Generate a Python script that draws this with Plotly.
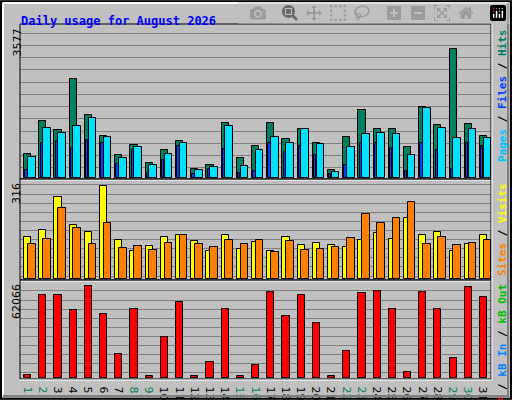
import plotly.graph_objects as go

days = list(range(1, 32))
hits = [665, 1587, 1320, 2752, 1756, 1175, 640, 906, 421, 761, 1028, 251, 372, 1514, 542, 882, 1514, 1076, 1367, 955, 227, 1125, 1878, 1344, 1344, 858, 1975, 1465, 3577, 1489, 1149]
files = [591, 1392, 1247, 1441, 1660, 1125, 567, 858, 372, 664, 955, 227, 300, 1441, 324, 761, 1125, 979, 1344, 931, 178, 858, 1231, 1247, 1231, 640, 1927, 1392, 1101, 1344, 1101]
pages = [227, 979, 1012, 834, 1052, 955, 397, 761, 130, 494, 882, 105, 251, 810, 130, 202, 979, 712, 882, 640, 105, 348, 955, 979, 834, 202, 979, 785, 251, 979, 882]
visits = [144, 168, 278, 185, 161, 316, 134, 96, 113, 144, 151, 130, 96, 148, 103, 127, 96, 144, 117, 124, 117, 110, 134, 155, 137, 206, 151, 161, 96, 120, 148]
sites = [120, 137, 240, 172, 120, 192, 106, 113, 99, 124, 151, 120, 110, 134, 120, 134, 93, 130, 99, 103, 110, 141, 220, 192, 209, 261, 120, 144, 117, 124, 134]
kbf = [2265, 55943, 55943, 45750, 62066, 43032, 15855, 46430, 1586, 27407, 51186, 1586, 10418, 46430, 1586, 9059, 57981, 41673, 55943, 36917, 1586, 17893, 56849, 58208, 46657, 4304, 57981, 46430, 13136, 61160, 54357]
weekend = {1, 2, 8, 9, 15, 16, 22, 23, 29, 30}
ticktext = [f'<span style="color:{"#008050" if d in weekend else "#000000"}">{d}</span>' for d in days]

W = 512
def px(x): return x / W
def py(y): return 1 - y / 400

fig = go.Figure()
common = dict(marker_line_color="black", marker_line_width=1)
fig.add_bar(x=days, y=hits, offset=-0.33, width=0.47, marker_color="#008060", xaxis="x", yaxis="y", **common)
fig.add_bar(x=days, y=files, offset=-0.08, width=0.5, marker_color="#00E0FF", xaxis="x", yaxis="y", **common)
fig.add_bar(x=days, y=pages, offset=-0.25, width=0.15, marker_color="#0040FF", xaxis="x", yaxis="y", **common)
fig.add_bar(x=days, y=visits, offset=-0.33, width=0.47, marker_color="#FFFF00", xaxis="x2", yaxis="y2", **common)
fig.add_bar(x=days, y=sites, offset=-0.08, width=0.5, marker_color="#FF8000", xaxis="x2", yaxis="y2", **common)
fig.add_bar(x=days, y=kbf, offset=-0.33, width=0.47, marker_color="#FF0000", xaxis="x3", yaxis="y3", **common)

xd = [px(20), px(491)]
xcommon = dict(range=[0.4, 31.4], domain=xd, showgrid=False, zeroline=False, showline=False)
grid = dict(showgrid=True, gridcolor="#808080", gridwidth=1, zeroline=False, showticklabels=False, ticks="")
fig.update_layout(
    width=512, height=400, margin=dict(l=0, r=0, t=0, b=0),
    paper_bgcolor="#C0C0C0", plot_bgcolor="#C0C0C0", barmode="overlay", showlegend=False,
    bargap=0,
    xaxis=dict(**xcommon, showticklabels=False, anchor="y"),
    xaxis2=dict(**xcommon, showticklabels=False, anchor="y2"),
    xaxis3=dict(**xcommon, anchor="y3", tickmode="array", tickvals=days, ticktext=ticktext, ticks="",
                tickfont=dict(family="DejaVu Sans", size=11), ticklabelstandoff=2),
    yaxis=dict(**grid, domain=[py(178), py(25)], range=[0, 3577 * 177.5 / 147.5 - 3577 * 0.02], tick0=282, dtick=339),
    yaxis2=dict(**grid, domain=[py(279), py(180)], range=[0, 316 * 98 / 92], tick0=10, dtick=31),
    yaxis3=dict(**grid, domain=[py(378), py(281)], range=[0, 62066 * 96 / 91.5], tick0=3400, dtick=6115),
    font=dict(family="DejaVu Sans Mono"),
)
shapes = [
    dict(type="rect", xref="paper", yref="paper", x0=0.002, x1=0.998, y0=0.003, y1=0.997, line=dict(color="black", width=2)),
    dict(type="line", xref="paper", yref="paper", x0=px(3), x1=px(508), y0=py(3), y1=py(3), line=dict(color="white", width=2)),
    dict(type="line", xref="paper", yref="paper", x0=px(3), x1=px(3), y0=py(3), y1=py(397), line=dict(color="white", width=2)),
    dict(type="line", xref="paper", yref="paper", x0=px(3), x1=px(508), y0=py(396), y1=py(396), line=dict(color="#808080", width=2)),
    dict(type="line", xref="paper", yref="paper", x0=px(508), x1=px(508), y0=py(3), y1=py(397), line=dict(color="#808080", width=2)),
]
for y0, y1 in [(178, 25), (279, 180), (378, 281)]:
    shapes.append(dict(type="rect", xref="paper", yref="paper", x0=xd[0], x1=xd[1], y0=py(y0 + 1), y1=py(y1 - 1),
                       line=dict(color="black", width=1)))
    shapes.append(dict(type="line", xref="paper", yref="paper", x0=xd[0], x1=xd[1], y0=py(y0 + 2), y1=py(y0 + 2), line=dict(color="white", width=1)))
    shapes.append(dict(type="line", xref="paper", yref="paper", x0=xd[1] + 0.002, x1=xd[1] + 0.002, y0=py(y0 + 2), y1=py(y1 - 1), line=dict(color="white", width=1)))
fig.update_layout(shapes=shapes)

ann = [
    dict(x=px(19), y=py(12), text="<b>Daily usage for August 2026</b>", font=dict(color="#0000FF", size=12)),
]
for label, ytop in [("3577", 27), ("316", 181), ("62066", 282)]:
    ann.append(dict(x=px(8), y=py(ytop), text=label, textangle=-90, xanchor="left", yanchor="top",
                    font=dict(family="DejaVu Sans", size=11, color="black")))
right = [
    ('<span style="color:#00C0FF">Pages</span> / <span style="color:#0040FF">Files</span> / <span style="color:#008060">Hits</span>', 27),
    ('<span style="color:#FF8000">Sites</span> / <span style="color:#FFFF00">Visits</span>', 181),
    ('<span style="color:#FF0000">kB F</span> / <span style="color:#0080FF">kB In</span> / <span style="color:#00C000">kB Out</span>', 282),
]
for t, ytop in right:
    ann.append(dict(x=px(494), y=py(ytop), text="<b>" + t + "</b>", textangle=-90, xanchor="left", yanchor="top",
                    font=dict(size=11, color="black")))
for a in ann:
    a.update(xref="paper", yref="paper", showarrow=False)
    a.setdefault("xanchor", "left")
fig.update_layout(annotations=ann)
fig.write_html("out.html", post_script="document.body.style.margin='0';document.body.style.overflow='hidden';")
